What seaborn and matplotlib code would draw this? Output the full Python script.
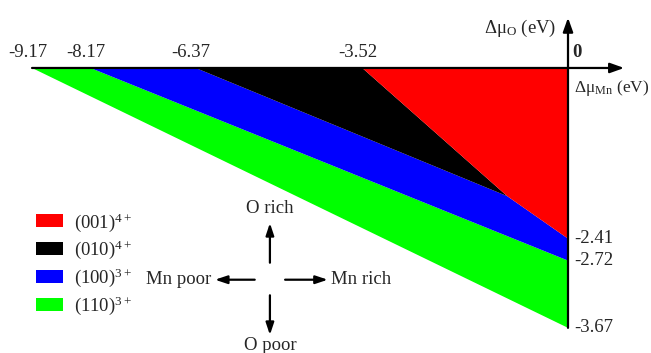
import matplotlib.pyplot as plt
import seaborn as sns
from matplotlib.patches import Patch

# Dados do diagrama de estabilidade (eV)
mu_mn_cortes = [-9.17, -8.17, -6.37, -3.52]   # interseções com Δμ_O = 0
mu_o_cortes = [-3.67, -2.72, -2.41]           # interseções com Δμ_Mn = 0
ponto_triplo = (-1.04, -1.81)                 # encontro vermelho/preto/azul

rotulos = ['(001)$^{4+}$', '(010)$^{4+}$', '(100)$^{3+}$', '(110)$^{3+}$']
cores = ['#ff0000', '#000000', '#0000ff', '#00ff00']

sns.set_theme(style="white")
plt.rcParams['font.family'] = ['Liberation Serif', 'DejaVu Serif']
plt.rcParams['mathtext.fontset'] = 'custom'
plt.rcParams['mathtext.rm'] = 'Liberation Serif'
plt.rcParams['mathtext.it'] = 'Liberation Serif:italic'
plt.rcParams['mathtext.bf'] = 'Liberation Serif:bold'

fig = plt.figure(figsize=(6.51, 3.53), dpi=100)
ax = fig.add_axes([0, 0, 1, 1])
ax.set_xlim(-9.718, 1.42)
ax.set_ylim(-4.025, 0.960)
ax.axis('off')

a, b, c, d = mu_mn_cortes
g, h, r = mu_o_cortes
tx, ty = ponto_triplo

regioes = {
    '#00ff00': ([a, b, 0, 0], [0, 0, h, g]),
    '#0000ff': ([b, c, tx, 0, 0], [0, 0, ty, r, h]),
    '#000000': ([c, d, tx], [0, 0, ty]),
    '#ff0000': ([d, 0, 0, tx], [0, 0, r, ty]),
}
for cor, (xs, ys) in regioes.items():
    ax.fill(xs, ys, color=cor, lw=0, zorder=1)

# Eixos com setas
seta = dict(arrowstyle='-|>,head_length=0.7,head_width=0.25', color='black',
            lw=1.6, shrinkA=0, shrinkB=0)
ax.annotate('', xy=(0.96, 0), xytext=(a, 0), arrowprops=seta, zorder=3)
ax.annotate('', xy=(0, 0.71), xytext=(0, g), arrowprops=seta, zorder=3)

fs = 13.5
for x in mu_mn_cortes:
    ax.text(x - 0.08, 0.1, f'{x:.2f}', ha='center', va='bottom', fontsize=fs)
for y in mu_o_cortes:
    ax.text(0.1, y, f'{y:.2f}', ha='left', va='center', fontsize=fs)
ax.text(0.07, 0.1, '0', ha='left', va='bottom', fontsize=fs, fontweight='bold')
ax.text(-0.2, 0.56, 'Δμ$_{\\mathrm{O}}$ (eV)', ha='right', va='center', fontsize=fs)
ax.text(0.1, -0.28, 'Δμ$_{\\mathrm{Mn}}$ (eV)', ha='left', va='center', fontsize=12.5)

# Rosa dos ventos
cx, cy = -5.10, -2.99
seta2 = dict(arrowstyle='-|>,head_length=0.6,head_width=0.2', color='black',
             lw=1.6, shrinkA=0, shrinkB=0)
ax.annotate('', xy=(cx, -2.19), xytext=(cx, -2.75), arrowprops=seta2)
ax.annotate('', xy=(cx, -3.77), xytext=(cx, -3.21), arrowprops=seta2)
ax.annotate('', xy=(-6.04, cy), xytext=(-5.36, cy), arrowprops=seta2)
ax.annotate('', xy=(-4.11, cy), xytext=(-4.84, cy), arrowprops=seta2)
ax.text(cx, -1.98, 'O rich', ha='center', va='center', fontsize=fs)
ax.text(cx, -3.92, 'O poor', ha='center', va='center', fontsize=fs)
ax.text(-6.10, cy, 'Mn poor', ha='right', va='center', fontsize=fs)
ax.text(-4.06, cy, 'Mn rich', ha='left', va='center', fontsize=fs)

handles = [Patch(facecolor=cor, edgecolor='none', label=lab) for cor, lab in zip(cores, rotulos)]
fig.legend(handles=handles, loc='upper left', bbox_to_anchor=(36 / 651, 1 - 211 / 353),
           frameon=False, fontsize=fs, borderpad=0, borderaxespad=0,
           handlelength=1.45, handleheight=0.7, handletextpad=0.55, labelspacing=0.28)

fig.savefig('out.png', dpi=100)
